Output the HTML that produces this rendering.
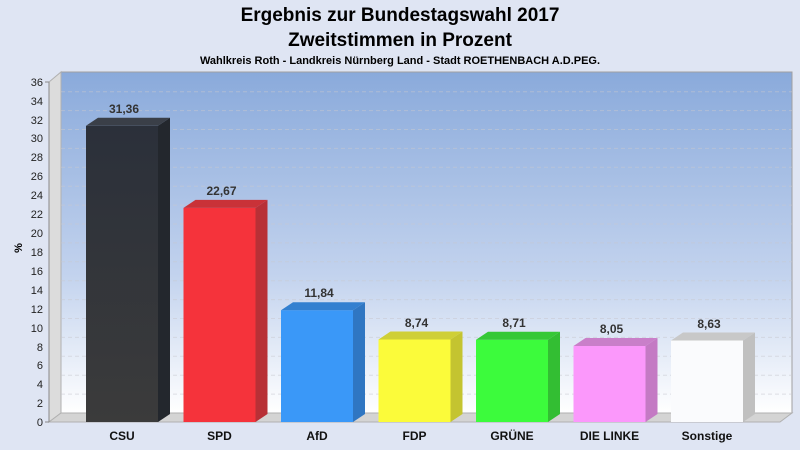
<!DOCTYPE html>
<html><head><meta charset="utf-8"><style>
body{margin:0;width:800px;height:450px;background:#dfe5f3;overflow:hidden}
svg{display:block;font-family:"Liberation Sans",sans-serif}
</style></head><body>
<svg width="800" height="450" viewBox="0 0 800 450">
<defs>
<linearGradient id="wall" x1="0" y1="0" x2="0" y2="1">
<stop offset="0" stop-color="#8aaadb"/><stop offset="0.6" stop-color="#c3d3ee"/><stop offset="1" stop-color="#ffffff"/></linearGradient>
<linearGradient id="csu" x1="0" y1="0" x2="0" y2="1"><stop offset="0" stop-color="#2b303a"/><stop offset="1" stop-color="#3b3b3b"/></linearGradient>
</defs>
<text x="400" y="21" text-anchor="middle" font-size="19" font-weight="bold">Ergebnis zur Bundestagswahl 2017</text>
<text x="400" y="46" text-anchor="middle" font-size="19" font-weight="bold">Zweitstimmen in Prozent</text>
<text x="400" y="64" text-anchor="middle" font-size="11" font-weight="bold">Wahlkreis Roth - Landkreis Nürnberg Land - Stadt ROETHENBACH A.D.PEG.</text>
<rect x="61" y="72" width="731" height="341" fill="url(#wall)" stroke="#a0a0a0" stroke-width="1"/>
<polygon points="49,82 61,72 61,413 49,422" fill="#dcdcdc" stroke="#b0b0b0"/>
<polygon points="49,422 61,413 792,413 780,422" fill="#d4d4d4" stroke="#b0b0b0"/>
<g stroke="#c8c8d0" stroke-opacity="0.55" stroke-dasharray="4,3" stroke-width="1">
<line x1="61" x2="792" y1="394.1" y2="394.1"/><line x1="61" x2="792" y1="375.2" y2="375.2"/><line x1="61" x2="792" y1="356.3" y2="356.3"/><line x1="61" x2="792" y1="337.4" y2="337.4"/><line x1="61" x2="792" y1="318.5" y2="318.5"/><line x1="61" x2="792" y1="299.6" y2="299.6"/><line x1="61" x2="792" y1="280.7" y2="280.7"/><line x1="61" x2="792" y1="261.8" y2="261.8"/><line x1="61" x2="792" y1="242.9" y2="242.9"/><line x1="61" x2="792" y1="224" y2="224"/><line x1="61" x2="792" y1="205.1" y2="205.1"/><line x1="61" x2="792" y1="186.2" y2="186.2"/><line x1="61" x2="792" y1="167.3" y2="167.3"/><line x1="61" x2="792" y1="148.4" y2="148.4"/><line x1="61" x2="792" y1="129.5" y2="129.5"/><line x1="61" x2="792" y1="110.6" y2="110.6"/><line x1="61" x2="792" y1="91.7" y2="91.7"/>
</g>
<line x1="49" y1="82" x2="49" y2="422" stroke="#888"/>
<g font-size="11" text-anchor="end" fill="#222">
<text x="43" y="426">0</text><text x="43" y="407">2</text><text x="43" y="388">4</text><text x="43" y="369">6</text><text x="43" y="351">8</text><text x="43" y="332">10</text><text x="43" y="313">12</text><text x="43" y="294">14</text><text x="43" y="275">16</text><text x="43" y="256">18</text><text x="43" y="237">20</text><text x="43" y="218">22</text><text x="43" y="199">24</text><text x="43" y="180">26</text><text x="43" y="161">28</text><text x="43" y="142">30</text><text x="43" y="124">32</text><text x="43" y="105">34</text><text x="43" y="86">36</text>
</g>
<g stroke="#888"><line x1="45" x2="49" y1="422" y2="422"/><line x1="45" x2="49" y1="82" y2="82"/></g>
<text x="22" y="248" font-size="11" font-weight="bold" transform="rotate(-90 22 248)" text-anchor="middle">%</text>
<g>
<rect x="86" y="125.8" width="72" height="296.2" fill="url(#csu)"/>
<polygon points="158,125.8 170,117.8 170,414 158,422" fill="#23272d"/>
<polygon points="86,125.8 98,117.8 170,117.8 158,125.8" fill="#3a3f48"/>

<rect x="183.5" y="207.9" width="72" height="214.1" fill="#f5333b"/>
<polygon points="255.5,207.9 267.5,199.9 267.5,414 255.5,422" fill="#b83036"/>
<polygon points="183.5,207.9 195.5,199.9 267.5,199.9 255.5,207.9" fill="#c93238"/>

<rect x="281" y="310.2" width="72" height="111.8" fill="#3a98f8"/>
<polygon points="353,310.2 365,302.2 365,414 353,422" fill="#2f76c2"/>
<polygon points="281,310.2 293,302.2 365,302.2 353,310.2" fill="#3380d0"/>

<rect x="378.5" y="339.5" width="72" height="82.5" fill="#fbfb3a"/>
<polygon points="450.5,339.5 462.5,331.5 462.5,414 450.5,422" fill="#c4c430"/>
<polygon points="378.5,339.5 390.5,331.5 462.5,331.5 450.5,339.5" fill="#cfcf36"/>

<rect x="476" y="339.7" width="72" height="82.3" fill="#3cfb3c"/>
<polygon points="548,339.7 560,331.7 560,414 548,422" fill="#33be33"/>
<polygon points="476,339.7 488,331.7 560,331.7 548,339.7" fill="#36c836"/>

<rect x="573.5" y="346" width="72" height="76" fill="#fb98fb"/>
<polygon points="645.5,346 657.5,338 657.5,414 645.5,422" fill="#c47ac4"/>
<polygon points="573.5,346 585.5,338 657.5,338 645.5,346" fill="#c97fc9"/>

<rect x="671" y="340.5" width="72" height="81.5" fill="#fafbfd"/>
<polygon points="743,340.5 755,332.5 755,414 743,422" fill="#c0c0c0"/>
<polygon points="671,340.5 683,332.5 755,332.5 743,340.5" fill="#c8c8c8"/>
</g>
<g font-size="12" font-weight="bold" text-anchor="middle" fill="#333">
<text x="124" y="113">31,36</text><text x="221.5" y="195">22,67</text><text x="319" y="297">11,84</text><text x="416.5" y="327">8,74</text><text x="514" y="327">8,71</text><text x="611.5" y="333">8,05</text><text x="709" y="328">8,63</text>
</g>
<g font-size="12" font-weight="bold" text-anchor="middle" fill="#111">
<text x="122" y="440">CSU</text><text x="219.5" y="440">SPD</text><text x="317" y="440">AfD</text><text x="414.5" y="440">FDP</text><text x="512" y="440">GRÜNE</text><text x="609.5" y="440">DIE LINKE</text><text x="707" y="440">Sonstige</text>
</g>
</svg>
</body></html>
